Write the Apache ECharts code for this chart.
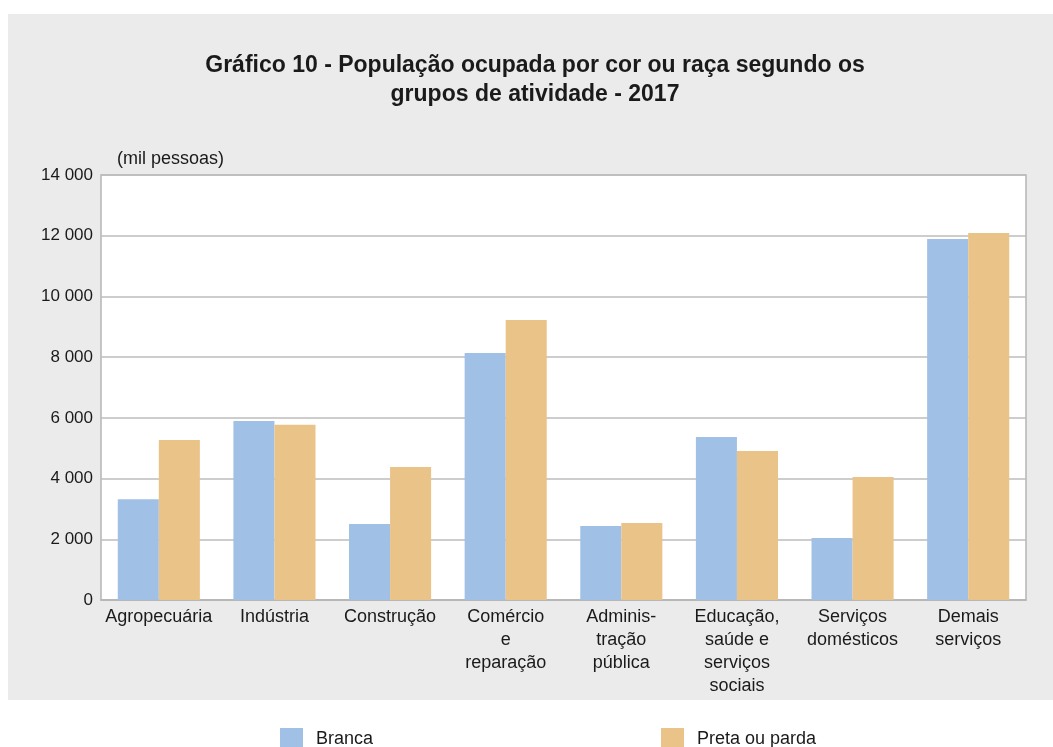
<!DOCTYPE html>
<html>
<head>
<meta charset="utf-8">
<script src="https://cdn.jsdelivr.net/npm/echarts@6/dist/echarts.min.js"></script>
<style>
  html, body { margin: 0; padding: 0; background: #fff; }
  #chart { width: 1053px; height: 747px; }
</style>
</head>
<body>
<div id="chart"></div>
<script>
var categories = [
  "Agropecuária",
  "Indústria",
  "Construção",
  "Comércio\ne\nreparação",
  "Adminis-\ntração\npública",
  "Educação,\nsaúde e\nserviços\nsociais",
  "Serviços\ndomésticos",
  "Demais\nserviços"
];
var branca = [3320, 5900, 2500, 8140, 2440, 5370, 2040, 11890];
var pretaParda = [5270, 5770, 4380, 9220, 2540, 4910, 4050, 12090];
var seriesNames = ["Branca", "Preta ou parda"];
var titleLines = [
  "Gráfico 10 - População ocupada por cor ou raça segundo os",
  "grupos de atividade - 2017"
];
var unitLabel = "(mil pessoas)";

var chartDom = document.getElementById("chart");
var myChart = echarts.init(chartDom);
var font = "'Liberation Sans', Arial, sans-serif";

function legendAt(name, left) {
  return {
    data: [name],
    left: left,
    top: 723,
    itemWidth: 23,
    itemHeight: 22,
    icon: "rect",
    textStyle: { fontSize: 18, color: "#1a1a1a", padding: [0, 0, 0, 8] }
  };
}

var option = {
  backgroundColor: "#ffffff",
  animation: false,
  textStyle: { fontFamily: font },
  color: ["#a0c0e6", "#eac388"],
  title: {
    text: titleLines.join("\n"),
    left: 530,
    textAlign: "center",
    top: 46,
    textStyle: {
      fontFamily: font,
      fontSize: 23,
      fontWeight: "bold",
      color: "#1a1a1a",
      lineHeight: 29
    }
  },
  graphic: [
    {
      type: "rect",
      z: -10,
      silent: true,
      shape: { x: 8, y: 14, width: 1045, height: 686 },
      style: { fill: "#ebebeb" }
    },
    {
      type: "text",
      left: 117,
      top: 150,
      style: {
        text: unitLabel,
        font: "18px " + font,
        fill: "#1a1a1a"
      }
    }
  ],
  legend: [legendAt(seriesNames[0], 275), legendAt(seriesNames[1], 656)],
  grid: {
    left: 101,
    right: 27,
    top: 175,
    bottom: 147,
    show: true,
    backgroundColor: "#ffffff",
    borderColor: "#b5b5b5",
    borderWidth: 1.5
  },
  xAxis: {
    type: "category",
    data: categories,
    axisTick: { show: false },
    axisLine: { lineStyle: { color: "#b5b5b5", width: 1.5 } },
    axisLabel: {
      interval: 0,
      color: "#1a1a1a",
      fontSize: 18,
      lineHeight: 23,
      margin: 6
    }
  },
  yAxis: {
    type: "value",
    min: 0,
    max: 14000,
    interval: 2000,
    axisLine: { show: false },
    axisTick: { show: false },
    splitLine: { lineStyle: { color: "#bdbdbd", width: 1.5 } },
    axisLabel: {
      color: "#1a1a1a",
      fontSize: 17,
      margin: 8,
      formatter: function (v) {
        return String(v).replace(/\B(?=(\d{3})+(?!\d))/g, " ");
      }
    }
  },
  series: [
    {
      name: seriesNames[0],
      type: "bar",
      data: branca,
      barGap: 0,
      barCategoryGap: "29%"
    },
    {
      name: seriesNames[1],
      type: "bar",
      data: pretaParda,
      barGap: 0,
      barCategoryGap: "29%"
    }
  ]
};
option && myChart.setOption(option);
</script>
</body>
</html>
